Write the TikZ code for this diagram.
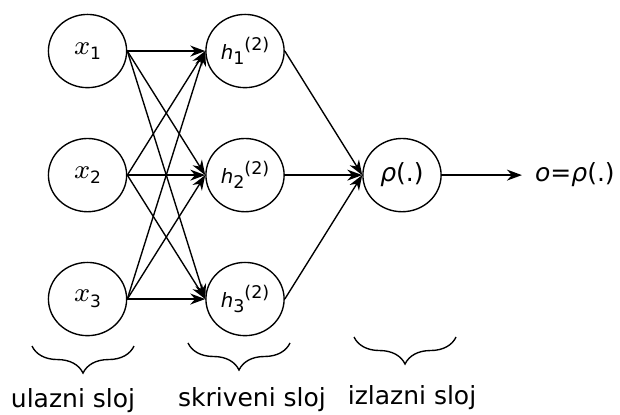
\documentclass[tikz,border=0pt]{standalone}
\usepackage{fontspec}
\setmainfont{DejaVu Sans}
\usepackage{graphicx}
\usetikzlibrary{shapes.geometric, arrows.meta, decorations.pathreplacing}

\newcommand{\hlab}[1]{{\fontsize{7.9}{9}\selectfont\textit{h}}{\fontsize{7}{8}\selectfont\raisebox{-0.55ex}{#1}\raisebox{0.95ex}{(2)}}}
\newcommand{\xlab}[1]{\scalebox{1.35}{\footnotesize$x$}{\fontsize{6.8}{8}\selectfont\raisebox{-0.6ex}{#1}}}

\tikzset{
  neuron/.style={draw, ellipse, line width=0.55pt, minimum width=1.10cm, minimum height=1.03cm, inner sep=0pt},
  link/.style={-{Stealth[length=6pt,width=4.4pt]}, line width=0.55pt},
  layerbrace/.style={decorate, decoration={brace, mirror, amplitude=0.38cm}, line width=0.55pt}
}

\begin{document}
\begin{tikzpicture}

\useasboundingbox (0,0) rectangle (8.72, 5.823);

\node[neuron] (x1) at (1.231, 5.105) {\xlab{1}};
\node[neuron] (x2) at (1.231, 3.36) {\xlab{2}};
\node[neuron] (x3) at (1.231, 1.617) {\xlab{3}};

\node[neuron] (h1) at (3.446, 5.105) {\hlab{1}};
\node[neuron] (h2) at (3.446, 3.36) {\hlab{2}};
\node[neuron] (h3) at (3.446, 1.617) {\hlab{3}};

\node[neuron] (rho) at (5.654, 3.36) {\textit{ρ}(.)};
\node[anchor=west, inner sep=0.18cm] (res) at (7.34, 3.36) {\textit{o}=\textit{ρ}(.)};

\draw[link] (x1.east) -- (h1.west);
\draw[link] (x1.east) -- (h2.west);
\draw[link] (x1.east) -- (h3.west);
\draw[link] (x2.east) -- (h1.west);
\draw[link] (x2.east) -- (h2.west);
\draw[link] (x2.east) -- (h3.west);
\draw[link] (x3.east) -- (h1.west);
\draw[link] (x3.east) -- (h2.west);
\draw[link] (x3.east) -- (h3.west);

\draw[link] (h1.east) -- (rho.west);
\draw[link] (h2.east) -- (rho.west);
\draw[link] (h3.east) -- (rho.west);
\draw[link] (rho.east) -- (res.west);

\draw[layerbrace] (0.450, 0.956) -- (1.885, 0.956);
\draw[layerbrace] (2.644, 0.999) -- (4.079, 0.999);
\draw[layerbrace] (4.979, 1.083) -- (6.414, 1.083);

\node[anchor=base] (lin) at (1.027, 0.098) {ulazni sloj};
\node[anchor=base] (lhid) at (3.544, 0.112) {skriveni sloj};
\node[anchor=base] (lout) at (5.795, 0.134) {izlazni sloj};

\end{tikzpicture}
\end{document}
